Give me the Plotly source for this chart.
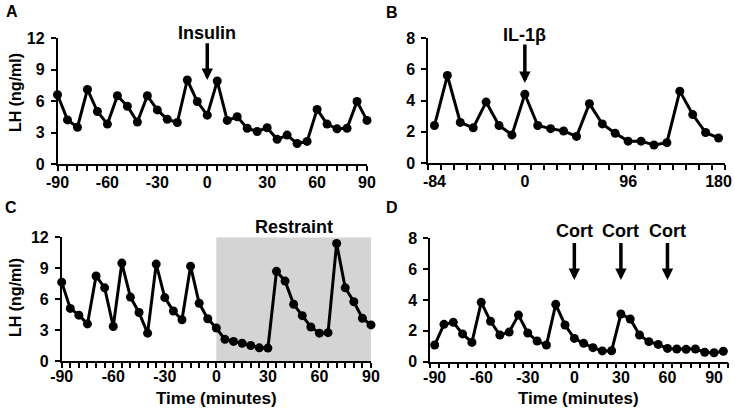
import plotly.graph_objects as go

W, H = 735, 416

# ---------------- data ----------------
# Panel A (insulin) - samples in order, labelled axis
a_lh = [6.6, 4.2, 3.5, 7.1, 5.0, 3.8, 6.5, 5.5, 4.0, 6.5,
        5.15, 4.25, 3.95, 8.0, 5.95, 4.65, 7.9, 4.15, 4.5, 3.4,
        3.1, 3.45, 2.35, 2.75, 1.95, 2.15, 5.2, 3.8, 3.35, 3.4,
        5.95, 4.15]
a_label_idx = [0, 5, 10, 15, 21, 26, 31]
a_labels = ["-90", "-60", "-30", "0", "30", "60", "90"]

# Panel B (IL-1beta)
b_time = [-84, -72, -60, -48, -36, -24, -12, 0, 12, 24, 36, 48, 60, 72,
          84, 96, 108, 120, 132, 144, 156, 168, 180]
b_lh = [2.4, 5.6, 2.6, 2.25, 3.9, 2.4, 1.8, 4.4, 2.4, 2.2, 2.05, 1.7,
        3.8, 2.5, 1.9, 1.4, 1.4, 1.15, 1.3, 4.6, 3.1, 1.95, 1.6]
b_labels = [-84, 0, 96, 180]

# Panel C (restraint)
c_time = [-90, -85, -80, -75, -70, -65, -60, -55, -50, -45, -40, -35, -30,
          -25, -20, -15, -10, -5, 0, 5, 10, 15, 20, 25, 30, 35, 40, 45, 50,
          55, 60, 65, 70, 75, 80, 85, 90]
c_lh = [7.65, 5.1, 4.45, 3.6, 8.25, 7.1, 3.35, 9.5, 6.2, 4.7, 2.7, 9.4,
        6.15, 4.85, 4.0, 9.2, 5.6, 4.1, 3.2, 2.1, 1.9, 1.72, 1.5, 1.28,
        1.25, 8.7, 7.75, 5.5, 4.4, 3.3, 2.7, 2.75, 11.4, 7.1, 5.75, 4.15, 3.5]
c_labels = [-90, -60, -30, 0, 30, 60, 90]
restraint = [0, 90]

# Panel D (corticosterone)
d_time = [-90, -84, -78, -72, -66, -60, -54, -48, -42, -36, -30, -24, -18,
          -12, -6, 0, 6, 12, 18, 24, 30, 36, 42, 48, 54, 60, 66, 72, 78, 84,
          90, 96]
d_lh = [1.08, 2.42, 2.55, 1.8, 1.25, 3.85, 2.62, 1.73, 1.92, 3.02, 1.86,
        1.34, 1.08, 3.72, 2.38, 1.51, 1.19, 0.91, 0.7, 0.71, 3.09, 2.77,
        1.73, 1.3, 1.12, 0.86, 0.82, 0.8, 0.82, 0.61, 0.58, 0.68]
d_labels = [-90, -60, -30, 0, 30, 60, 90]
cort_times = [0, 30, 60]

# ---------------- helpers ----------------
FONT = "Liberation Sans, Arial, sans-serif"


def px_x(p):
    return p / W


def px_y(p):
    return 1 - p / H


line_style = dict(color="black", width=3)
marker_style = dict(color="black", size=9, symbol="circle")

fig = go.Figure()
fig.add_trace(go.Scatter(x=list(range(len(a_lh))), y=a_lh, mode="lines+markers",
                         line=line_style, marker=marker_style, cliponaxis=False,
                         xaxis="x", yaxis="y"))
fig.add_trace(go.Scatter(x=b_time, y=b_lh, mode="lines+markers",
                         line=line_style, marker=marker_style, cliponaxis=False,
                         xaxis="x2", yaxis="y2"))
fig.add_trace(go.Scatter(x=c_time, y=c_lh, mode="lines+markers",
                         line=line_style, marker=marker_style, cliponaxis=False,
                         xaxis="x3", yaxis="y3"))
fig.add_trace(go.Scatter(x=d_time, y=d_lh, mode="lines+markers",
                         line=line_style, marker=marker_style, cliponaxis=False,
                         xaxis="x4", yaxis="y4"))

tickfont = dict(family=FONT, size=16, color="black", weight="bold")
axis_common = dict(showline=True, linecolor="black", linewidth=1.5,
                   showgrid=False, zeroline=False, tickfont=tickfont,
                   ticklen=5, tickwidth=1.5, tickcolor="black",
                   automargin=False)
yaxis_common = dict(axis_common, ticklabelstandoff=3)

fig.update_layout(
    # Panel A axes
    xaxis=dict(axis_common, domain=[px_x(57.5), px_x(367)], range=[0, 31],
               anchor="y", tickmode="array",
               tickvals=list(range(len(a_lh))),
               ticktext=[a_labels[a_label_idx.index(i)] if i in a_label_idx else ""
                         for i in range(len(a_lh))],
               ticks="outside", ticklabelstandoff=-2),
    yaxis=dict(yaxis_common, domain=[px_y(164), px_y(38)], range=[0, 12],
               anchor="x", tickvals=[0, 3, 6, 9, 12], ticks="outside"),
    # Panel B axes (category-style: ticks between samples)
    xaxis2=dict(axis_common, domain=[px_x(428), px_x(725)], range=[-90, 186],
                anchor="y2", tickmode="array", tickvals=b_labels,
                ticktext=[str(v) for v in b_labels], ticks="",
                ticklabelstandoff=3,
                minor=dict(ticks="outside", tick0=-90, dtick=12, ticklen=5,
                           tickwidth=1.5, tickcolor="black")),
    yaxis2=dict(yaxis_common, domain=[px_y(163), px_y(38)], range=[0, 8],
                anchor="x2", tickvals=[0, 2, 4, 6, 8], ticks="outside"),
    # Panel C axes
    xaxis3=dict(axis_common, domain=[px_x(61.7), px_x(371)], range=[-90, 90],
                anchor="y3", tickmode="array", tickvals=c_labels,
                ticktext=[str(v) for v in c_labels], ticks="outside",
                ticklabelstandoff=-5,
                minor=dict(ticks="outside", tick0=-90, dtick=5, ticklen=5,
                           tickwidth=1.5, tickcolor="black")),
    yaxis3=dict(yaxis_common, domain=[px_y(361), px_y(237.3)], range=[0, 12],
                anchor="x3", tickvals=[0, 3, 6, 9, 12], ticks="outside"),
    # Panel D axes (category-style: ticks between samples)
    xaxis4=dict(axis_common, domain=[px_x(430), px_x(728)], range=[-93, 99],
                anchor="y4", tickmode="array", tickvals=d_labels,
                ticktext=[str(v) for v in d_labels], ticks="",
                ticklabelstandoff=0,
                minor=dict(ticks="outside", tick0=-93, dtick=6, ticklen=5,
                           tickwidth=1.5, tickcolor="black")),
    yaxis4=dict(yaxis_common, domain=[px_y(361.7), px_y(238.3)], range=[0, 8],
                anchor="x4", tickvals=[0, 2, 4, 6, 8], ticks="outside"),
)

# restraint shading
fig.add_shape(type="rect", xref="x3", yref="y3", x0=restraint[0], x1=restraint[1],
              y0=0, y1=12, fillcolor="#d4d4d4", line=dict(width=0), layer="below")

ann = []
tfont = dict(family=FONT, size=18, color="black", weight="bold")
lfont = dict(family=FONT, size=16, color="black", weight="bold")


def arrow(x, y_tip, y_tail, xr, yr):
    return dict(x=x, y=y_tip, xref=xr, yref=yr, ax=x, ay=y_tail, axref=xr, ayref=yr,
                text="", showarrow=True, arrowhead=2, arrowsize=0.65,
                arrowwidth=3.5, arrowcolor="black", standoff=0)


# Panel A: insulin at time 0
a_zero = a_label_idx[a_labels.index("0")]
ann.append(arrow(a_zero, 8.0, 11.65, "x", "y"))
ann.append(dict(x=a_zero, y=px_y(32.5), xref="x", yref="paper", text="Insulin",
                showarrow=False, font=tfont, xanchor="center", yanchor="middle"))
# Panel B: IL-1b at time 0
ann.append(arrow(0, 5.12, 7.68, "x2", "y2"))
ann.append(dict(x=0, y=px_y(35), xref="x2", yref="paper", text="IL-1β",
                showarrow=False, font=tfont, xanchor="center", yanchor="middle"))
# Panel C: restraint label
ann.append(dict(x=(restraint[0] + restraint[1]) / 2, y=px_y(227), xref="x3",
                yref="paper", text="Restraint", showarrow=False, font=tfont,
                xanchor="center", yanchor="middle"))
# Panel D: cort arrows
for t in cort_times:
    ann.append(arrow(t, 5.3, 7.8, "x4", "y4"))
    ann.append(dict(x=t, y=px_y(231), xref="x4", yref="paper", text="Cort",
                    showarrow=False, font=tfont, xanchor="center", yanchor="middle"))

# y-axis titles
for yc in (93, 298):
    ann.append(dict(x=px_x(15), y=px_y(yc), xref="paper", yref="paper",
                    text="LH (ng/ml)", textangle=-90, showarrow=False, font=lfont,
                    xanchor="center", yanchor="middle"))
# x-axis titles
for xc in (216.5, 578.5):
    ann.append(dict(x=px_x(xc), y=px_y(398), xref="paper", yref="paper",
                    text="Time (minutes)", showarrow=False,
                    font=dict(family=FONT, size=17, color="black", weight="bold"),
                    xanchor="center", yanchor="middle"))
# panel letters
for letter, (lx, ly) in zip("ABCD", [(12, 11), (392, 12), (11, 207), (392, 207)]):
    ann.append(dict(x=px_x(lx), y=px_y(ly), xref="paper", yref="paper", text=letter,
                    showarrow=False, font=dict(family=FONT, size=16, color="black",
                                               weight="bold"),
                    xanchor="center", yanchor="middle"))

fig.update_layout(annotations=ann, width=W, height=H, showlegend=False,
                  margin=dict(l=0, r=0, t=0, b=0),
                  paper_bgcolor="white", plot_bgcolor="rgba(0,0,0,0)",
                  font=dict(family=FONT, color="black"))

fig.write_html(
    "out.html",
    config={"displayModeBar": False},
    post_script="document.body.style.margin='0';document.body.style.padding='0';"
                "document.documentElement.style.overflow='hidden';",
)
